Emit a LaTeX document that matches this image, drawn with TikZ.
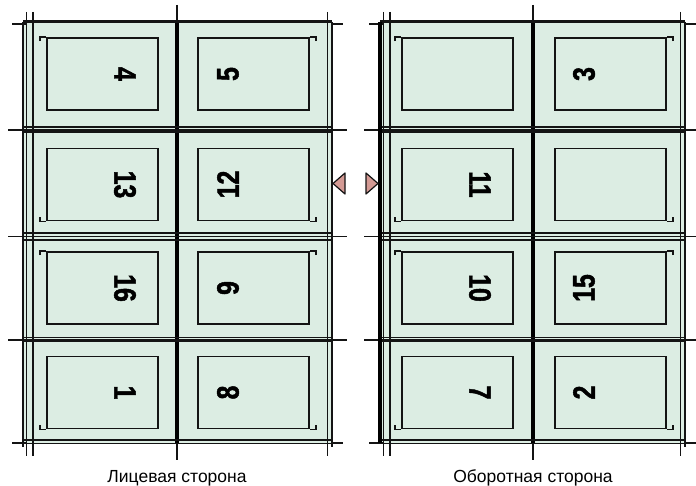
\documentclass[tikz,border=0pt]{standalone}
\usepackage{fontspec}
\setmainfont{Liberation Sans}
\newfontfamily\pagenumfont[FakeStretch=0.8, FakeBold=1.5]{Liberation Sans}
\newfontfamily\captionfont{Liberation Sans}
\usepackage{xcolor}
\definecolor{sheetfill}{HTML}{DCEDE3}
\definecolor{sheetline}{HTML}{141414}
\definecolor{markfill}{HTML}{D49A94}
\usetikzlibrary{positioning}

\begin{document}
\begin{tikzpicture}[
  x=1pt, y=-1pt,
  sheet/.style={fill=sheetfill},
  pageframe/.style={draw=sheetline, line width=1.6pt, minimum width=111pt, minimum height=72pt, inner sep=0pt},
  bracket/.style={draw=sheetline, line width=1.5pt},
  trim/.style={sheetline, line width=1.2pt},
  fold/.style={sheetline, line width=2.4pt},
  spine/.style={black, line width=3.6pt},
  pagenum/.style={font=\pagenumfont\bfseries\fontsize{31}{31}\selectfont, inner sep=0pt},
  sidelabel/.style={font=\captionfont\fontsize{17.5}{17.5}\selectfont, inner sep=0pt, anchor=base},
  marker/.style={draw=sheetline, line width=1.2pt, fill=markfill, line join=round}
]
\useasboundingbox (0,0) rectangle (696,486);

% Sheets: left edge / right edge / spine / reach of the cut lines
\foreach \sl/\sr/\sm/\ea/\eb in {23/332/177/8/347, 380/685/533/364/696} {
  \fill[sheet] (\sl,22) rectangle (\sr,443);
  % spine
  \draw[trim] (\sm,5) -- (\sm,460);
  \draw[spine] (\sm,22) -- (\sm,443);
  % head and foot
  \draw[fold] (\sl,21.5) -- (\sr,21.5);
  \draw[trim] (\sl,440) -- (\sr,440);
  \draw[trim] (\sl,443.5) -- (\sr,443.5);
  % folds between rows
  \draw[trim] (\sl,127) -- (\sr,127);
  \draw[fold] (\sl,131.5) -- (\sr,131.5);
  \draw[trim] (\sl,233) -- (\sr,233);
  \draw[trim] (\sl,240) -- (\sr,240);
  \draw[trim] (\sl,337.5) -- (\sr,337.5);
  \draw[fold] (\sl,341) -- (\sr,341);
  \foreach \ry in {130, 236.5, 340}
    \draw[trim] (\ea,\ry) -- (\eb,\ry);
  % trim marks
  \draw[trim] (\sl+3.5,12) -- (\sl+3.5,456);
  \draw[trim] (\sl+10,12) -- (\sl+10,456);
  \draw[trim] (\sr-4.5,12) -- (\sr-4.5,456);
  \draw[trim] (\sr,22) -- (\sr,447);
  \draw[trim] (\sl-11,24) -- (\sl+3,24);
  \draw[trim] (\sr,24) -- (\sr+11,24);
  \draw[trim] (\sl-11,443) -- (\sl+3,443);
  \draw[trim] (\sr,443) -- (\sr+11,443);
}
\draw[trim] (23,22) -- (23,447);
\draw[spine] (380,22) -- (380,443);

% Page frames (columns a-d, rows 1-4)
\foreach \cx/\cn in {102.5/a, 253.5/b, 457.5/c, 610.5/d}
  \foreach \cy/\rn in {74/1, 184.5/2, 288/3, 392.5/4}
    \node[pageframe] (frame-\cn\rn) at (\cx,\cy) {};

% Corner brackets: outer side, head in rows 1 and 3, foot in rows 2 and 4
\foreach \cn in {a, c} {
  \foreach \rn in {1, 3}
    \draw[bracket] ([xshift=-6pt, yshift=-4pt]frame-\cn\rn.north west) |- (frame-\cn\rn.north west);
  \foreach \rn in {2, 4}
    \draw[bracket] ([xshift=-6pt, yshift=4pt]frame-\cn\rn.south west) |- (frame-\cn\rn.south west);
}
\foreach \cn in {b, d} {
  \foreach \rn in {1, 3}
    \draw[bracket] ([xshift=6pt, yshift=-4pt]frame-\cn\rn.north east) |- (frame-\cn\rn.north east);
  \foreach \rn in {2, 4}
    \draw[bracket] ([xshift=6pt, yshift=4pt]frame-\cn\rn.south east) |- (frame-\cn\rn.south east);
}

% Page numbers, front side
\node[pagenum, rotate=-90] (num-4)  at (125,74)    {4};
\node[pagenum, rotate=90]  (num-5)  at (228,74)    {5};
\node[pagenum, rotate=-90] (num-13) at (125,184.5) {13};
\node[pagenum, rotate=90]  (num-12) at (228,184.5) {12};
\node[pagenum, rotate=-90] (num-16) at (125,288)   {16};
\node[pagenum, rotate=90]  (num-9)  at (228,288)   {9};
\node[pagenum, rotate=-90] (num-1)  at (125,392.5) {1};
\node[pagenum, rotate=90]  (num-8)  at (228,392.5) {8};

% Page numbers, back side
\node[pagenum, rotate=90]  (num-3)  at (584,74)    {3};
\node[pagenum, rotate=-90] (num-11) at (480,184.5) {11};
\node[pagenum, rotate=-90] (num-10) at (480,288)   {10};
\node[pagenum, rotate=90]  (num-15) at (584,288)   {15};
\node[pagenum, rotate=-90] (num-7)  at (480,392.5) {7};
\node[pagenum, rotate=90]  (num-2)  at (584,392.5) {2};

% Register marks between the sheets
\draw[marker] (345,173) -- (333,183.5) -- (345,194) -- cycle;
\draw[marker] (366,173) -- (378,183.5) -- (366,194) -- cycle;

% Side captions
\node[sidelabel] (front-label) at (177,482) {Лицевая сторона};
\node[sidelabel] (back-label)  at (533,482) {Оборотная сторона};

\end{tikzpicture}
\end{document}
